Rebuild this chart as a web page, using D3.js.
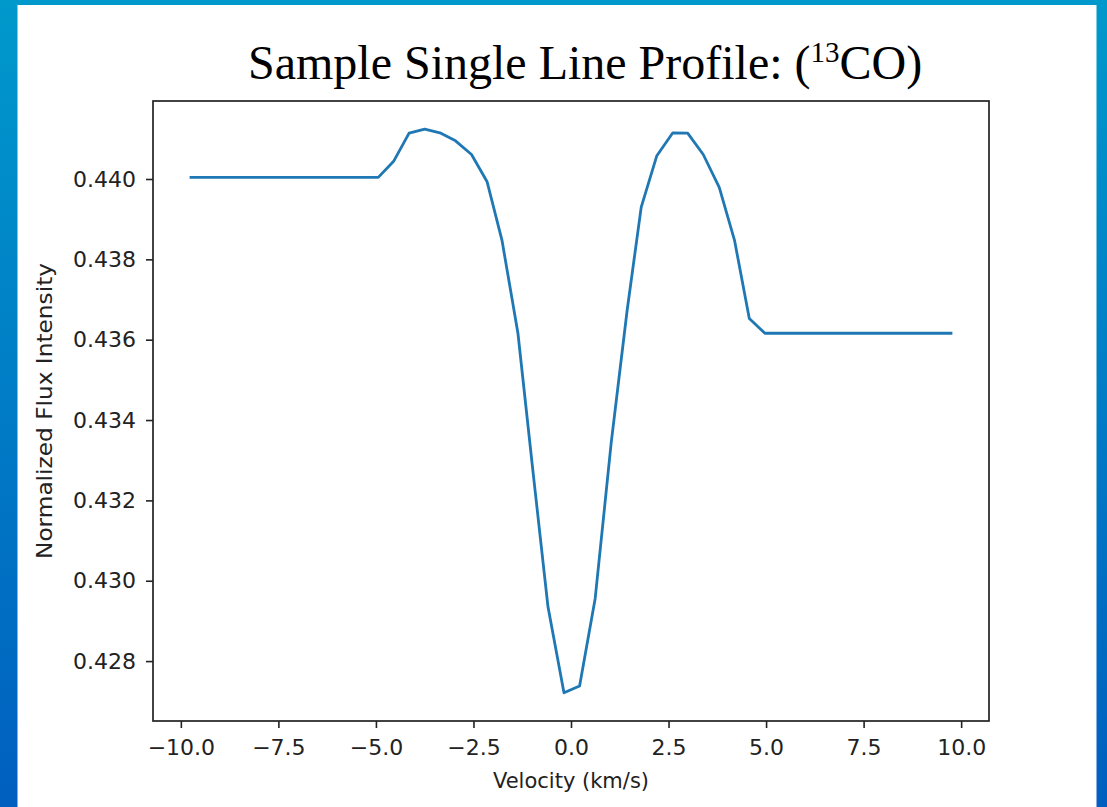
<!DOCTYPE html>
<html>
<head>
<meta charset="utf-8">
<script src="https://cdn.jsdelivr.net/npm/d3@7"></script>
<style>
  html, body { margin: 0; padding: 0; background: #fff; }
  svg { display: block; }
  .tick text { font-family: "DejaVu Sans", sans-serif; font-size: 22px; fill: #222; }
  .tick line { stroke: #222; stroke-width: 1.6; }
  .domain { display: none; }
</style>
</head>
<body>
<div id="chart"></div>
<script>
// 13CO single line profile
const velocity = [-9.74, -4.94, -4.54, -4.15, -3.75, -3.36, -2.96, -2.55, -2.15, -1.77,
  -1.36, -0.97, -0.59, -0.18, 0.22, 0.62, 1.03, 1.44, 1.80, 2.20,
  2.61, 2.99, 3.39, 3.80, 4.19, 4.57, 4.97, 9.74];
const flux = [0.44004, 0.44004, 0.44045, 0.44114, 0.44124, 0.44115, 0.44095, 0.44061, 0.43993, 0.43848,
  0.43616, 0.43268, 0.42935, 0.42721, 0.42738, 0.42956, 0.43343, 0.43674, 0.43930, 0.44058,
  0.44115, 0.44114, 0.44061, 0.43979, 0.43848, 0.43653, 0.43616, 0.43616];
const xTicks = [-10, -7.5, -5, -2.5, 0, 2.5, 5, 7.5, 10];
const yTicks = [0.428, 0.430, 0.432, 0.434, 0.436, 0.438, 0.440];

const width = 1107, height = 807;
const plot = { left: 153, right: 989, top: 101, bottom: 721 };

const svg = d3.select("#chart").append("svg")
  .attr("width", width).attr("height", height);

// slide background: blue gradient frame with white card
const grad = svg.append("defs").append("linearGradient")
  .attr("id", "frame").attr("x1", 0).attr("y1", 0).attr("x2", 0).attr("y2", 1);
grad.append("stop").attr("offset", "0%").attr("stop-color", "#0099cc");
grad.append("stop").attr("offset", "100%").attr("stop-color", "#005fbf");
svg.append("rect").attr("width", width).attr("height", height).attr("fill", "url(#frame)");
svg.append("rect").attr("x", 17.5).attr("y", 5).attr("width", 1079).attr("height", height)
  .attr("fill", "#fff");

// title
const title = svg.append("text")
  .attr("x", 248).attr("y", 79)
  .attr("font-family", "'Liberation Serif', 'Times New Roman', serif")
  .attr("font-size", 48).attr("fill", "#000");
title.append("tspan").text("Sample Single Line Profile: (");
title.append("tspan").attr("font-size", 29).attr("dy", -17).text("13");
title.append("tspan").attr("dy", 17).text("CO)");

// scales with matplotlib-like 5% margins
const pad = (ext) => { const m = (ext[1] - ext[0]) * 0.05; return [ext[0] - m, ext[1] + m]; };
const x = d3.scaleLinear().domain(pad(d3.extent(velocity))).range([plot.left, plot.right]);
const y = d3.scaleLinear().domain(pad(d3.extent(flux))).range([plot.bottom, plot.top]);

svg.append("g")
  .attr("transform", `translate(0,${plot.bottom})`)
  .call(d3.axisBottom(x).tickValues(xTicks).tickSize(7).tickPadding(11)
    .tickFormat(d => d3.format(".1f")(d).replace("-", "\u2212")));

svg.append("g")
  .attr("transform", `translate(${plot.left},0)`)
  .call(d3.axisLeft(y).tickValues(yTicks).tickSize(7).tickPadding(10)
    .tickFormat(d3.format(".3f")));

const line = d3.line().x((d, i) => x(velocity[i])).y(d => y(d));
svg.append("path")
  .datum(flux)
  .attr("d", line)
  .attr("fill", "none")
  .attr("stroke", "#1f77b4")
  .attr("stroke-width", 2.8)
  .attr("stroke-linejoin", "round")
  .attr("stroke-linecap", "square");

svg.append("rect")
  .attr("x", plot.left).attr("y", plot.top)
  .attr("width", plot.right - plot.left).attr("height", plot.bottom - plot.top)
  .attr("fill", "none").attr("stroke", "#222").attr("stroke-width", 1.7);

// axis labels
svg.append("text")
  .attr("x", (plot.left + plot.right) / 2).attr("y", 788)
  .attr("text-anchor", "middle")
  .attr("font-family", "'DejaVu Sans', sans-serif").attr("font-size", 21).attr("fill", "#222")
  .text("Velocity (km/s)");

svg.append("text")
  .attr("transform", `translate(52,${(plot.top + plot.bottom) / 2}) rotate(-90)`)
  .attr("text-anchor", "middle")
  .attr("font-family", "'DejaVu Sans', sans-serif").attr("font-size", 21).attr("fill", "#222")
  .attr("textLength", 296).attr("lengthAdjust", "spacingAndGlyphs")
  .text("Normalized Flux Intensity");
</script>
</body>
</html>
